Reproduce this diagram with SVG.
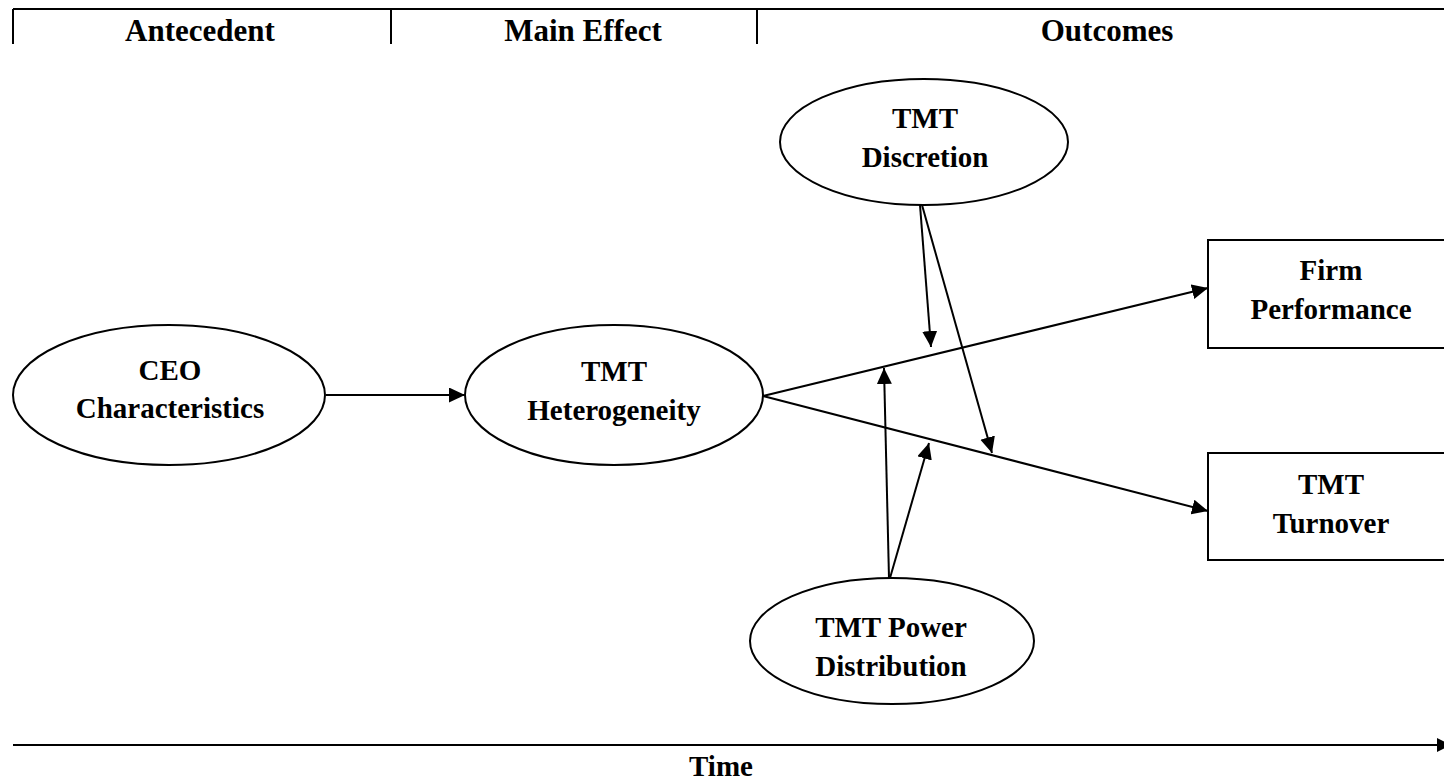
<svg xmlns="http://www.w3.org/2000/svg" width="1444" height="780" viewBox="0 0 1444 780">
<style>
.shape{fill:#fff;stroke:#000;stroke-width:2}
.ln{stroke:#000;stroke-width:2;fill:none}
.t{font-family:"Liberation Serif","Times New Roman",serif;font-weight:bold;font-size:29px;text-anchor:middle;fill:#000}
.h{font-size:31px}
</style>
<defs>
<marker id="ah" markerUnits="userSpaceOnUse" markerWidth="17" markerHeight="16" refX="16" refY="7.5" orient="auto">
<path d="M0,0 L16,7.5 L0,15 z" fill="#000"/>
</marker>
</defs>
<rect width="1444" height="780" fill="#fff"/>
<g id="header">
<line class="ln" x1="13" y1="9" x2="1444" y2="9"/>
<line class="ln" x1="13" y1="9" x2="13" y2="44"/>
<line class="ln" x1="391" y1="9" x2="391" y2="44"/>
<line class="ln" x1="757" y1="9" x2="757" y2="44"/>
<text class="t h" x="200" y="41">Antecedent</text>
<text class="t h" x="583" y="41">Main Effect</text>
<text class="t h" x="1107" y="41">Outcomes</text>
</g>
<g id="connectors">
<line class="ln" x1="326" y1="395" x2="465" y2="395" marker-end="url(#ah)"/>
<line class="ln" x1="763" y1="396" x2="1208" y2="288" marker-end="url(#ah)"/>
<line class="ln" x1="763" y1="396" x2="1208" y2="511" marker-end="url(#ah)"/>
<line class="ln" x1="920" y1="205" x2="931" y2="347" marker-end="url(#ah)"/>
<line class="ln" x1="922" y1="205" x2="992" y2="453" marker-end="url(#ah)"/>
<line class="ln" x1="889" y1="578" x2="884" y2="368" marker-end="url(#ah)"/>
<line class="ln" x1="890" y1="578" x2="929" y2="443" marker-end="url(#ah)"/>
<line class="ln" x1="13" y1="745" x2="1440" y2="745"/>
<polygon points="1437,738 1451,745 1437,752" fill="#000"/>
</g>
<g id="ceo">
<ellipse class="shape" cx="169" cy="395" rx="156" ry="70"/>
<text class="t" x="170" y="380">CEO</text>
<text class="t" x="170" y="418">Characteristics</text>
</g>
<g id="heterogeneity">
<ellipse class="shape" cx="614" cy="395" rx="149" ry="70"/>
<text class="t" x="614" y="381">TMT</text>
<text class="t" x="614" y="420">Heterogeneity</text>
</g>
<g id="discretion">
<ellipse class="shape" cx="924" cy="142" rx="144" ry="63"/>
<text class="t" x="925" y="128">TMT</text>
<text class="t" x="925" y="167">Discretion</text>
</g>
<g id="power">
<ellipse class="shape" cx="892" cy="641" rx="142" ry="63"/>
<text class="t" x="891" y="637">TMT Power</text>
<text class="t" x="891" y="676">Distribution</text>
</g>
<g id="firm">
<rect class="shape" x="1208" y="240" width="260" height="108"/>
<text class="t" x="1331" y="280">Firm</text>
<text class="t" x="1331" y="319">Performance</text>
</g>
<g id="turnover">
<rect class="shape" x="1208" y="453" width="260" height="107"/>
<text class="t" x="1331" y="494">TMT</text>
<text class="t" x="1331" y="533">Turnover</text>
</g>
<g id="time">
<text class="t" x="721" y="776">Time</text>
</g>
</svg>
